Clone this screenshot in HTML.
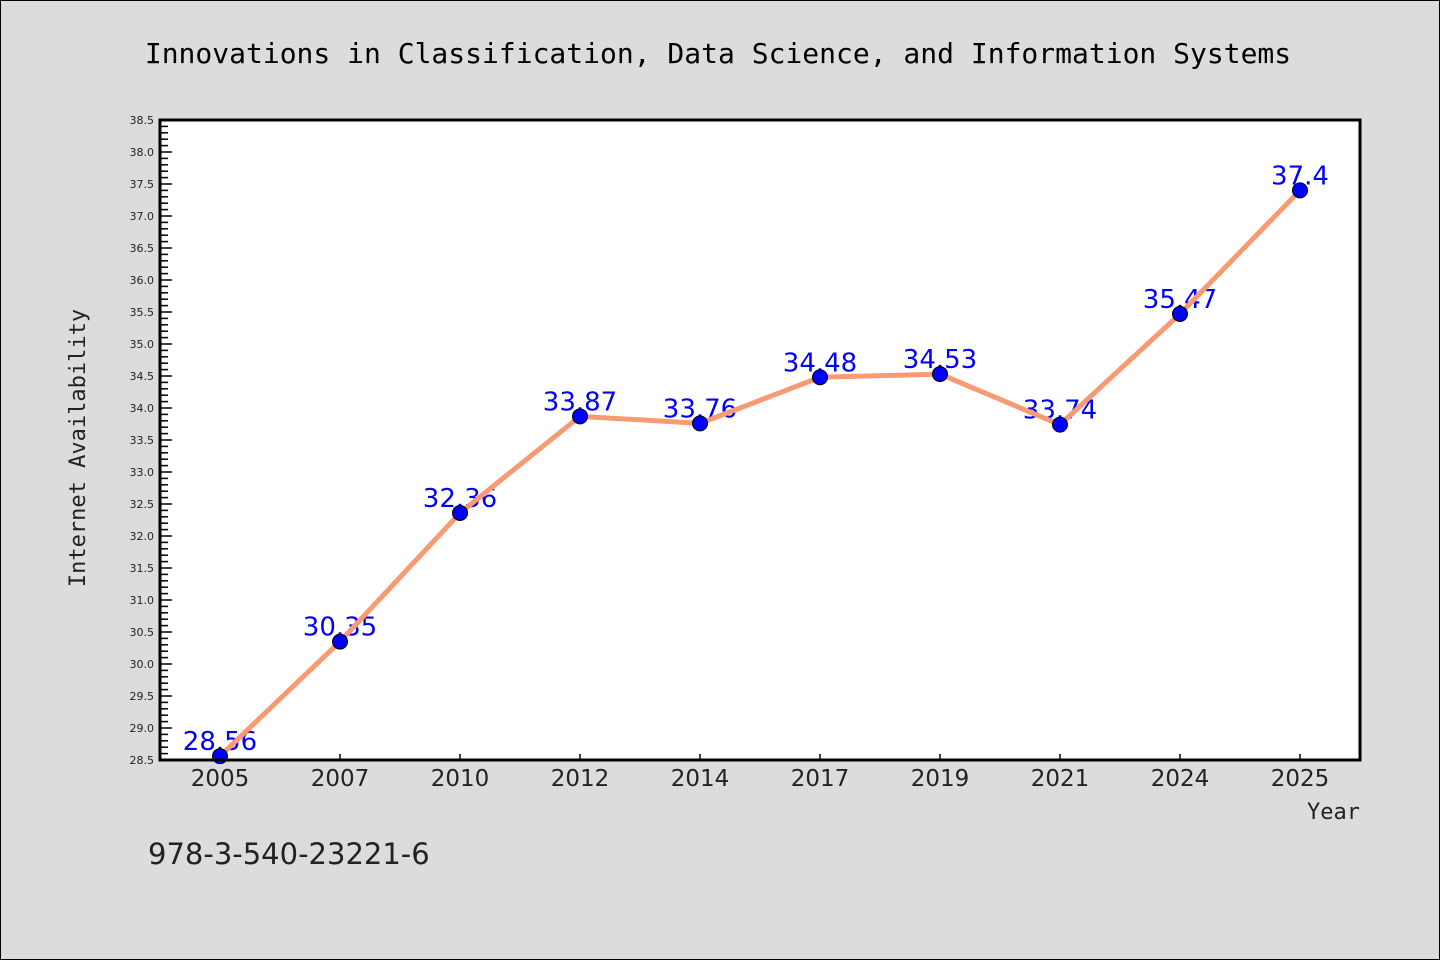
<!DOCTYPE html>
<html><head><meta charset="utf-8"><style>
body{margin:0;background:#dcdcdc;}
svg{display:block;}
</style></head><body>
<svg id="c" width="1440" height="960" xmlns="http://www.w3.org/2000/svg">
<rect x="0.5" y="0.5" width="1439" height="959" fill="#dcdcdc" stroke="#000"/>
<text x="718" y="63" text-anchor="middle" font-family="DejaVu Sans Mono, monospace" font-size="28" fill="#000">Innovations in Classification, Data Science, and Information Systems</text>
<rect x="160" y="120" width="1200" height="640" fill="#fff"/>
<g id="ticks"></g>
<g id="labels"></g>
<g id="series"></g>
<path d="M160,120 H1360 V760 H160 Z" fill="none" stroke="#000" stroke-width="3"/>
<text transform="translate(85,448) rotate(-90)" text-anchor="middle" font-family="DejaVu Sans Mono, monospace" font-size="22" fill="#222">Internet Availability</text>
<text x="1360" y="819" text-anchor="end" font-family="DejaVu Sans Mono, monospace" font-size="22" fill="#222">Year</text>
<text x="148" y="864" font-family="DejaVu Sans, sans-serif" font-size="29" fill="#222">978-3-540-23221-6</text>
</svg>
<script>
const categories=["2005","2007","2010","2012","2014","2017","2019","2021","2024","2025"];
const values=[28.56,30.35,32.36,33.87,33.76,34.48,34.53,33.74,35.47,37.4];
const valueLabels=["28.56","30.35","32.36","33.87","33.76","34.48","34.53","33.74","35.47","37.4"];
const yMin=28.5,yMax=38.5;
const NS="http://www.w3.org/2000/svg";
const L=160,R=1360,T=120,B=760;
const x=i=>L+(R-L)/categories.length*(i+0.5);
const y=v=>B-(v-yMin)/(yMax-yMin)*(B-T);
function mk(tag,attrs,parent){const e=document.createElementNS(NS,tag);for(const k in attrs)e.setAttribute(k,attrs[k]);parent.appendChild(e);return e;}
const tg=document.getElementById('ticks'),lg=document.getElementById('labels'),sg=document.getElementById('series');
for(let k=0;k<=Math.round((yMax-yMin)*10);k++){
  const v=yMin+k/10,yy=y(v),major=k%5===0;
  const t=mk('line',{x1:L,x2:L+(major?12:8),y1:yy,y2:yy,stroke:'#000','stroke-width':1.5},tg);
  
  
  if(major){
    const tx=mk('text',{x:L-6,y:yy+4,'text-anchor':'end','font-family':'DejaVu Sans, sans-serif','font-size':11,fill:'#222'},tg);
    tx.textContent=v.toFixed(1);
    
    
  }
}
categories.forEach((c,i)=>{
  const t=mk('line',{x1:x(i),x2:x(i),y1:B,y2:B-6,stroke:'#000','stroke-width':1.5},tg);
  
  
  const tx=mk('text',{x:x(i),y:B+26,'text-anchor':'middle','font-family':'DejaVu Sans, sans-serif','font-size':23,fill:'#222'},tg);
  tx.textContent=c;
  
  
  const vl=mk('text',{x:x(i),y:y(values[i])-6,'text-anchor':'middle','font-family':'DejaVu Sans, sans-serif','font-size':26,fill:'#0000ff'},lg);
  vl.textContent=valueLabels[i];
  
  
});
const line=mk('polyline',{points:values.map((v,i)=>x(i)+','+y(v)).join(' '),fill:'none',stroke:'#f99a72','stroke-width':5,'stroke-linejoin':'round'},sg);


values.forEach((v,i)=>{
  const p=mk('circle',{cx:x(i),cy:y(v),r:7.5,fill:'#0000ff',stroke:'#000','stroke-width':1},sg);
  
  
});
</script>
</body></html>
